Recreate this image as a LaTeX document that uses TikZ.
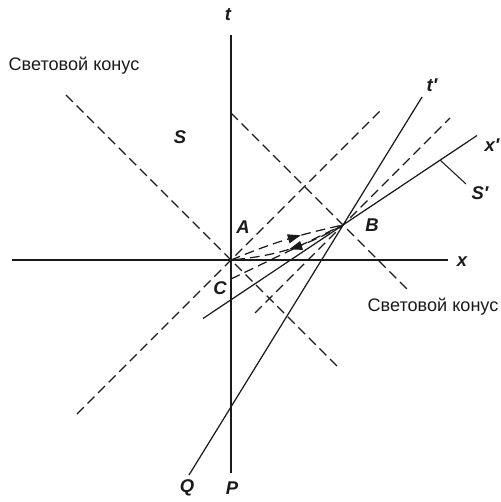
\documentclass[tikz,border=0pt]{standalone}
\usepackage{fontspec}
\setmainfont{Liberation Sans}
\usetikzlibrary{arrows.meta,decorations.markings}
\definecolor{inkblack}{HTML}{1A1A1A}
\tikzset{
  axisline/.style={line width=0.75pt, draw=inkblack},
  worldline/.style={line width=0.7pt, draw=inkblack},
  lightcone/.style={line width=0.7pt, draw=inkblack, dash pattern=on 5.5pt off 3pt},
  signal/.style={lightcone, postaction={decorate}, decoration={markings, mark=at position #1 with {\arrow{Triangle[length=2.6mm, width=1.8mm]}}}},
  pointer/.style={line width=0.6pt, draw=inkblack},
  axislabel/.style={font=\fontsize{10.5}{12}\selectfont\bfseries\itshape, text=inkblack, inner sep=1pt},
  conetext/.style={font=\fontsize{10.3}{12}\selectfont, text=inkblack, inner sep=1pt}
}
\begin{document}
\begin{tikzpicture}[x=0.2mm, y=0.2mm]
  \useasboundingbox (-231,-242) rectangle (269,260);
  % events
  \coordinate (O) at (0,0);
  \coordinate (B) at (112,35);
  \coordinate (C) at (0,-19);
  % axes of S
  \coordinate (ttop) at (0,225);
  \coordinate (tbot) at (0,-213);
  \coordinate (xleft) at (-219,0);
  \coordinate (xright) at (217,0);
  % axes of S'
  \coordinate (tptop) at (191,163);
  \coordinate (tpbot) at (-42,-215);
  \coordinate (xptop) at (246,124.5);
  \coordinate (xpbot) at (-28,-58.5);
  \coordinate (spfoot) at (209,100);
  \coordinate (sptip) at (235,76);
  % light cone of O
  \coordinate (oconeNE) at (152,152);
  \coordinate (oconeSW) at (-154,-154);
  \coordinate (oconeNW) at (-165,165);
  \coordinate (oconeSE) at (109,-109);
  % light cone of B
  \coordinate (bconeNW) at (0,147);
  \coordinate (bconeSE) at (178,-31);
  \coordinate (bconeNE) at (219,142);
  \coordinate (bconeSW) at (24,-53);

  \draw[axisline] (tbot) -- (ttop);
  \draw[axisline] (xleft) -- (xright);
  \draw[worldline] (tpbot) -- (tptop);
  \draw[worldline] (xpbot) -- (xptop);
  \draw[pointer] (spfoot) -- (sptip);

  \draw[lightcone] (oconeSW) -- (oconeNE);
  \draw[lightcone] (oconeNW) -- (oconeSE);
  \draw[lightcone] (bconeNW) -- (bconeSE);
  \draw[lightcone] (bconeSW) -- (bconeNE);

  \draw[signal=0.63] (O) to[bend left=5] (B);
  \draw[signal=0.5] (B) to[bend left=12] (O);
  \draw[lightcone] (C) -- (B);

  % labels
  \node[axislabel] (tlabel) at (-3,245) {t};
  \node[axislabel] (xlabel) at (231,-2) {x};
  \node[axislabel] (plabel) at (1,-228) {P};
  \node[axislabel] (qlabel) at (-44,-228) {Q};
  \node[axislabel] (slabel) at (-51,123) {S};
  \node[axislabel] (alabel) at (12,33) {A};
  \node[axislabel] (clabel) at (-11,-28) {C};
  \node[axislabel] (blabel) at (141,35) {B};
  \node[axislabel] (tplabel) at (201,175) {t′};
  \node[axislabel] (xplabel) at (261,115) {x′};
  \node[axislabel] (splabel) at (249,67) {S′};
  \node[conetext] (conetop) at (-157,194) {Световой конус};
  \node[conetext] (conebottom) at (202,-47) {Световой конус};
\end{tikzpicture}
\end{document}
